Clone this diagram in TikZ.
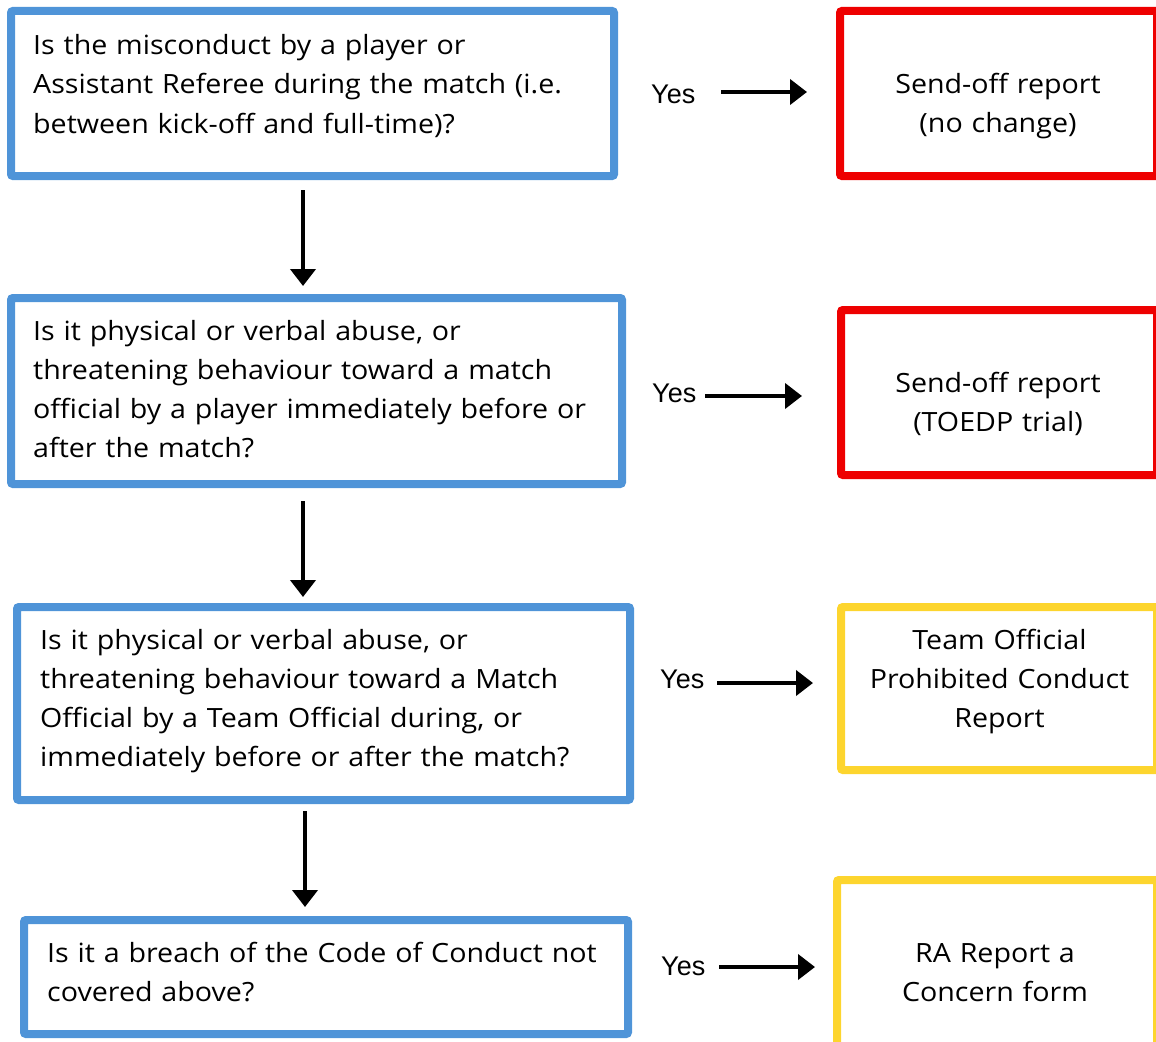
\documentclass[tikz,border=0pt]{standalone}
\usepackage{fontspec}
\setmainfont{Open Sans}[FakeStretch=1.08]
\newfontfamily\yesfont{Liberation Sans}
\usetikzlibrary{arrows.meta}
\definecolor{qblue}{HTML}{4F94D8}
\definecolor{ored}{HTML}{EE0000}
\definecolor{oyel}{HTML}{FDD52E}
\tikzset{
  boxq/.style={draw=qblue, line width=8pt, rounded corners=2pt, inner sep=0pt},
  boxr/.style={draw=ored, line width=8pt, rounded corners=2pt, inner sep=0pt},
  boxy/.style={draw=oyel, line width=8pt, rounded corners=2pt, inner sep=0pt},
  qtext/.style={anchor=base west, inner sep=0pt, text width=600pt, align=left, font=\fontsize{26.5}{39}\selectfont},
  otext/.style={anchor=base, inner sep=0pt, text width=320pt, align=center, font=\fontsize{26.5}{39}\selectfont},
  yeslbl/.style={anchor=base west, inner sep=0pt, font=\yesfont\fontsize{27}{32}\selectfont},
  arr/.style={line width=4pt, -{Triangle[length=17pt,width=25pt]}},
}
\begin{document}
\begin{tikzpicture}[x=1pt,y=-1pt]
\useasboundingbox (0,0) rectangle (1156,1041);
\clip (0,0) rectangle (1156,1041);
% question boxes
\node[boxq, minimum width=603pt, minimum height=165pt] (q1) at (312.5,93.5) {};
\node[boxq, minimum width=611pt, minimum height=186pt] (q2) at (316.5,391) {};
\node[boxq, minimum width=613pt, minimum height=193pt] (q3) at (323.5,703.5) {};
\node[boxq, minimum width=604pt, minimum height=114pt] (q4) at (326,977) {};
% outcome boxes
\node[boxr, minimum width=317pt, minimum height=165pt] (r1) at (998.5,93.5) {};
\node[boxr, minimum width=316pt, minimum height=165pt] (r2) at (999,392.5) {};
\node[boxy, minimum width=316pt, minimum height=163pt] (o3) at (999,688.5) {};
\node[boxy, minimum width=320pt, minimum height=180pt] (o4) at (997,970) {};
% question texts
\node[qtext] (q1t) at (33,55) {Is the misconduct by a player or\\Assistant Referee during the match (i.e.\\between kick-off and full-time)?};
\node[qtext] (q2t) at (33,340) {Is it physical or verbal abuse, or\\threatening behaviour toward a match\\official by a player immediately before or\\after the match?};
\node[qtext] (q3t) at (40,649) {Is it physical or verbal abuse, or\\threatening behaviour toward a Match\\Official by a Team Official during, or\\immediately before or after the match?};
\node[qtext] (q4t) at (47,962) {Is it a breach of the Code of Conduct not\\covered above?};
% outcome texts
\node[otext] (r1t) at (998,93) {Send-off report\\(no change)};
\node[otext] (r2t) at (998,392) {Send-off report\\(TOEDP trial)};
\node[otext] (o3t) at (999.5,649) {Team Official\\Prohibited Conduct\\Report};
\node[otext] (o4t) at (995,962) {RA Report a\\Concern form};
% yes labels
\node[yeslbl] (y1) at (651,103) {Yes};
\node[yeslbl] (y2) at (652,402) {Yes};
\node[yeslbl] (y3) at (660,688) {Yes};
\node[yeslbl] (y4) at (661,975) {Yes};
% vertical arrows
\coordinate (cx1) at (303,0);
\coordinate (cx3) at (305,0);
\draw[arr, shorten <=10pt, shorten >=8pt] (q1.south -| cx1) -- (q2.north -| cx1);
\draw[arr, shorten <=13pt, shorten >=6pt] (q2.south -| cx1) -- (q3.north -| cx1);
\draw[arr, shorten <=7pt, shorten >=9pt] (q3.south -| cx3) -- (q4.north -| cx3);
% horizontal arrows
\coordinate (h1) at (721,92);
\coordinate (h2) at (705,396);
\coordinate (h3) at (717,683);
\coordinate (h4) at (719,967);
\draw[arr, shorten >=29pt] (h1) -- (h1 -| r1.west);
\draw[arr, shorten >=35pt] (h2) -- (h2 -| r2.west);
\draw[arr, shorten >=24pt] (h3) -- (h3 -| o3.west);
\draw[arr, shorten >=18pt] (h4) -- (h4 -| o4.west);
\end{tikzpicture}
\end{document}
